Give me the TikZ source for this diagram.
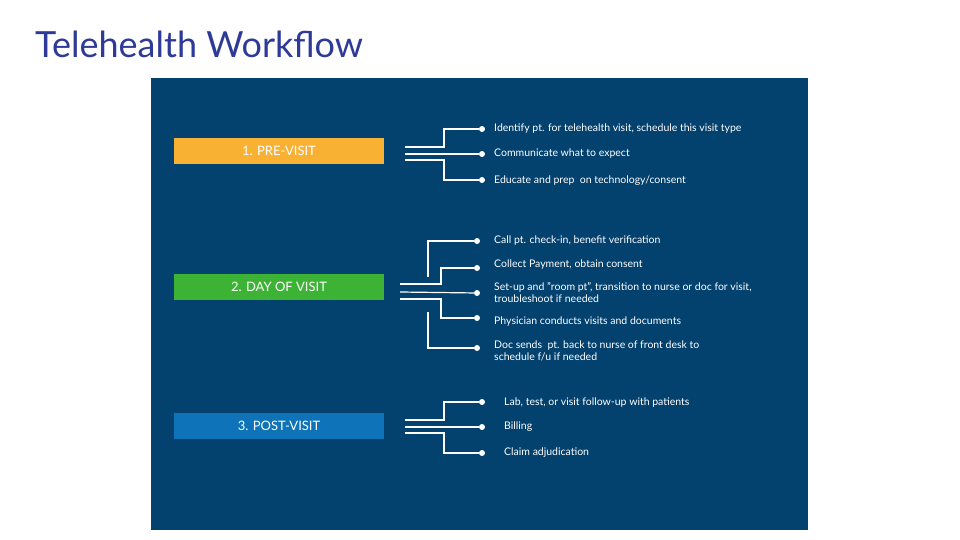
\documentclass[tikz,border=0pt]{standalone}
\usepackage{fontspec}
\setmainfont{Lato}
\definecolor{panel}{HTML}{03416E}
\definecolor{ttl}{HTML}{2E3A97}
\definecolor{c1}{HTML}{F8B133}
\definecolor{c2}{HTML}{3DB335}
\definecolor{c3}{HTML}{0E73B8}
\begin{document}
\begin{tikzpicture}[x=1pt,y=-1pt,
  stage/.style={minimum width=210pt,minimum height=26pt,inner sep=0,text=white,font=\fontsize{13}{15}\selectfont},
  item/.style={anchor=west,text=white,font=\fontsize{10.5}{12}\selectfont,align=left,inner sep=0},
  ln/.style={draw=white,line width=1.2pt},
  dot/.style={circle,fill=white,inner sep=0,minimum size=6pt}]
\useasboundingbox (0,0) rectangle (960,540);
\fill[white] (0,0) rectangle (960,540);
\node[anchor=west,text=ttl,font=\fontsize{36}{40}\selectfont,inner sep=0] (title) at (35,44) {Telehealth Workflow};
\fill[panel] (151,78) rectangle (808,530);
% stage boxes
\node[stage,fill=c1] (s1) at (279,151) {1. PRE-VISIT};
\node[stage,fill=c2] (s2) at (279,287) {2. DAY OF VISIT};
\node[stage,fill=c3] (s3) at (279,426) {3. POST-VISIT};
% pre-visit
\node[dot] (d11) at (482,129) {}; \node[item] (t11) at (494,129) {Identify pt. for telehealth visit, schedule this visit type};
\node[dot] (d12) at (482,154) {}; \node[item] (t12) at (494,154) {Communicate what to expect};
\node[dot] (d13) at (482,180) {}; \node[item] (t13) at (494,181) {Educate and prep\ \ on technology/consent};
\coordinate (a1) at (405,147); \coordinate (a2) at (405,154); \coordinate (a3) at (405,160);
\draw[ln] (a1) -- (444,147) |- (d11);
\draw[ln] (a2) -- (d12);
\draw[ln] (a3) -- (444,160) |- (d13);
% day of visit
\node[dot] (d21) at (477,241) {}; \node[item] (t21) at (494,241) {Call pt. check-in, benefit verification};
\node[dot] (d22) at (477,268) {}; \node[item] (t22) at (494,265) {Collect Payment, obtain consent};
\node[dot] (d23) at (477,293) {}; \node[item] (t23) at (494,293) {Set-up and "room pt", transition to nurse or doc for visit,\\troubleshoot if needed};
\node[dot] (d24) at (477,318) {}; \node[item] (t24) at (494,322) {Physician conducts visits and documents};
\node[dot] (d25) at (477,348) {}; \node[item] (t25) at (494,351) {Doc sends\ \ pt. back to nurse of front desk to\\schedule f/u if needed};
\coordinate (b0) at (428,277); \coordinate (b1) at (400,284); \coordinate (b2) at (400,292);
\coordinate (b3) at (400,299); \coordinate (b4) at (428,312);
\draw[ln] (b0) |- (d21);
\draw[ln] (b1) -- (441,284) |- (d22);
\draw[ln] (b2) -- (d23);
\draw[ln] (b3) -- (441,299) |- (d24);
\draw[ln] (b4) |- (d25);
% post-visit
\node[dot] (d31) at (482,402) {}; \node[item] (t31) at (504,403) {Lab, test, or visit follow-up with patients};
\node[dot] (d32) at (482,427) {}; \node[item] (t32) at (504,427) {Billing};
\node[dot] (d33) at (482,453) {}; \node[item] (t33) at (504,453) {Claim adjudication};
\coordinate (c1a) at (405,420); \coordinate (c2a) at (405,427); \coordinate (c3a) at (405,433);
\draw[ln] (c1a) -- (444,420) |- (d31);
\draw[ln] (c2a) -- (d32);
\draw[ln] (c3a) -- (444,433) |- (d33);
\end{tikzpicture}
\end{document}
